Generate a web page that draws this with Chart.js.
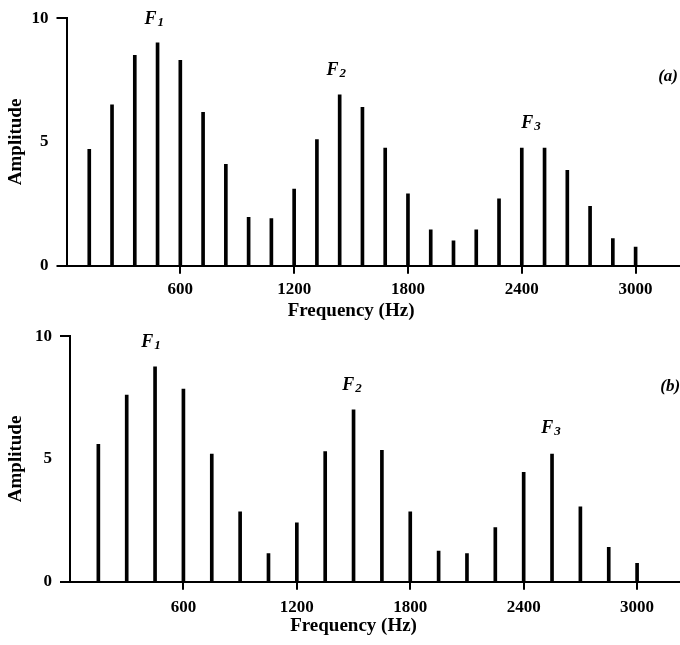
<!DOCTYPE html>
<html>
<head>
<meta charset="utf-8">
<script src="https://cdn.jsdelivr.net/npm/chart.js@4.4.1/dist/chart.umd.min.js"></script>
<style>
  html, body { margin: 0; padding: 0; background: #fff; }
  .panel { position: absolute; left: 0; width: 680px; }
  #panelA { top: 0; height: 322px; }
  #panelB { top: 318px; height: 327px; }
</style>
</head>
<body>
<div class="panel" id="panelA"><canvas id="chartA"></canvas></div>
<div class="panel" id="panelB"><canvas id="chartB"></canvas></div>
<script>
// (a) harmonics of 120 Hz
const freqA = [120, 240, 360, 480, 600, 720, 840, 960, 1080, 1200, 1320, 1440, 1560,
  1680, 1800, 1920, 2040, 2160, 2280, 2400, 2520, 2640, 2760, 2880, 3000];
const ampA = [4.7, 6.5, 8.5, 9.0, 8.3, 6.2, 4.1, 1.95, 1.9, 3.1, 5.1, 6.9, 6.4,
  4.75, 2.9, 1.45, 1.0, 1.45, 2.7, 4.75, 4.75, 3.85, 2.4, 1.1, 0.75];

// (b) harmonics of 150 Hz
const freqB = [150, 300, 450, 600, 750, 900, 1050, 1200, 1350, 1500, 1650, 1800,
  1950, 2100, 2250, 2400, 2550, 2700, 2850, 3000];
const ampB = [5.6, 7.6, 8.75, 7.85, 5.2, 2.85, 1.15, 2.4, 5.3, 7.0, 5.35, 2.85,
  1.25, 1.15, 2.2, 4.45, 5.2, 3.05, 1.4, 0.75];

const freqTicks = [600, 1200, 1800, 2400, 3000];
const ampTicks = [0, 5, 10];

// formant / panel labels, placed in data units (Hz, amplitude)
const notesA = [
  { text: 'F', sub: '1', x: 462, y: 9.95 },
  { text: 'F', sub: '2', x: 1422, y: 7.9 },
  { text: 'F', sub: '3', x: 2449, y: 5.75 },
  { text: '(a)', sub: '', x: 3171, y: 7.65 }
];
const notesB = [
  { text: 'F', sub: '1', x: 429, y: 9.75 },
  { text: 'F', sub: '2', x: 1492, y: 8.0 },
  { text: 'F', sub: '3', x: 2545, y: 6.25 },
  { text: '(b)', sub: '', x: 3175, y: 7.96 }
];

const serif = '"Liberation Serif", "DejaVu Serif", serif';

const notesPlugin = {
  id: 'notes',
  afterDraw(chart, args, opts) {
    const ctx = chart.ctx;
    const xs = chart.scales.x, ys = chart.scales.y;
    ctx.save();
    ctx.fillStyle = '#000';
    // x axis title, centred under the 0-3000 Hz range
    ctx.font = 'bold 19px ' + serif;
    ctx.textAlign = 'center';
    ctx.textBaseline = 'middle';
    const cx = (xs.getPixelForValue(0) + xs.getPixelForValue(3000)) / 2;
    ctx.fillText('Frequency (Hz)', cx, chart.chartArea.bottom + opts.titleGap);

    opts.notes.forEach(n => {
      const px = xs.getPixelForValue(n.x);
      const py = ys.getPixelForValue(n.y);
      if (n.sub) {
        ctx.font = 'italic bold 18px ' + serif;
        const w1 = ctx.measureText(n.text).width;
        ctx.font = 'italic bold 13px ' + serif;
        const w2 = ctx.measureText(n.sub).width;
        const left = px - (w1 + w2 + 1) / 2;
        ctx.textAlign = 'left';
        ctx.font = 'italic bold 18px ' + serif;
        ctx.fillText(n.text, left, py);
        ctx.font = 'italic bold 13px ' + serif;
        ctx.fillText(n.sub, left + w1 + 1, py + 3);
      } else {
        ctx.textAlign = 'center';
        ctx.font = 'italic bold 17px ' + serif;
        ctx.fillText(n.text, px, py);
      }
    });
    ctx.restore();
  }
};

function makePanel(id, freqs, amps, notes, cfg) {
  return new Chart(document.getElementById(id), {
    type: 'bar',
    data: {
      datasets: [{
        data: freqs.map((f, i) => ({ x: f, y: amps[i] })),
        backgroundColor: '#000',
        barThickness: 3,
        borderWidth: 0
      }]
    },
    options: {
      responsive: true,
      maintainAspectRatio: false,
      animation: false,
      layout: { padding: { top: cfg.top, left: 0, right: 0, bottom: 0 } },
      plugins: {
        legend: { display: false },
        tooltip: { enabled: false },
        notes: { notes: notes, titleGap: cfg.titleGap }
      },
      scales: {
        x: {
          type: 'linear',
          min: 0,
          max: cfg.xMax,
          offset: false,
          afterFit: s => { s.height = cfg.xHeight; },
          afterBuildTicks: s => { s.ticks = freqTicks.map(v => ({ value: v })); },
          ticks: {
            color: '#000',
            padding: cfg.tickPad,
            maxRotation: 0,
            autoSkip: false,
            callback: v => String(v),
            font: { family: serif, size: 17, weight: 'bold' }
          },
          grid: {
            offset: false,
            drawOnChartArea: false,
            drawTicks: true,
            tickLength: 8,
            color: '#000',
            lineWidth: 2
          },
          border: { display: true, color: '#000', width: 2 }
        },
        y: {
          min: 0,
          max: 10,
          afterFit: s => { s.width = cfg.yWidth; },
          afterBuildTicks: s => { s.ticks = ampTicks.map(v => ({ value: v })); },
          ticks: {
            color: '#000',
            padding: 8,
            callback: v => String(v),
            font: { family: serif, size: 17, weight: 'bold' }
          },
          grid: {
            drawOnChartArea: false,
            drawTicks: true,
            tickLength: 10,
            lineWidth: 2,
            color: ctx => (ctx.tick && ctx.tick.value === 5) ? 'rgba(0,0,0,0)' : '#000'
          },
          border: { display: true, color: '#000', width: 2 },
          title: {
            display: true,
            text: 'Amplitude',
            color: '#000',
            padding: { top: 5, bottom: 0 },
            font: { family: serif, size: 19, weight: 'bold' }
          }
        }
      }
    },
    plugins: [notesPlugin]
  });
}

makePanel('chartA', freqA, ampA, notesA,
  { top: 11, xHeight: 56.3, yWidth: 66.5, xMax: 3234, tickPad: 6, titleGap: 45 });
makePanel('chartB', freqB, ampB, notesB,
  { top: 8, xHeight: 63.3, yWidth: 70, xMax: 3227, tickPad: 8, titleGap: 44 });
</script>
</body>
</html>
